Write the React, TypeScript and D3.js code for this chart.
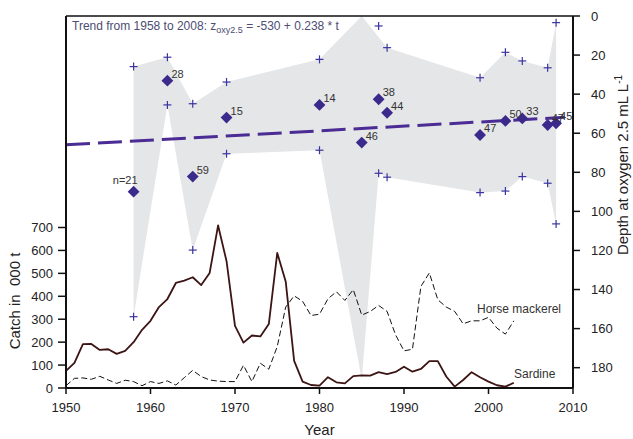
import React from "react";
import * as d3 from "d3";

// ---------- Catch data (thousand t) ----------
const catchYears = [
  1950, 1951, 1952, 1953, 1954, 1955, 1956, 1957, 1958, 1959,
  1960, 1961, 1962, 1963, 1964, 1965, 1966, 1967, 1968, 1969,
  1970, 1971, 1972, 1973, 1974, 1975, 1976, 1977, 1978, 1979,
  1980, 1981, 1982, 1983, 1984, 1985, 1986, 1987, 1988, 1989,
  1990, 1991, 1992, 1993, 1994, 1995, 1996, 1997, 1998, 1999,
  2000, 2001, 2002, 2003,
];
const sardine = [
  75, 110, 191, 192, 166, 169, 149, 162, 200, 254,
  293, 353, 388, 458, 468, 483, 449, 502, 709, 553,
  271, 198, 229, 225, 279, 589, 465, 118, 28, 13,
  10, 47, 25, 20, 52, 55, 54, 69, 61, 70,
  93, 71, 83, 117, 117, 50, 6, 35, 69, 47,
  28, 12, 6, 23,
];
const horseMackerel = [
  10, 42, 44, 38, 51, 35, 20, 34, 28, 10,
  28, 20, 31, 13, 45, 77, 50, 35, 30, 28,
  28, 99, 28, 108, 82, 181, 353, 402, 378, 316,
  322, 389, 420, 382, 429, 318, 334, 360, 334, 232,
  162, 169, 443, 502, 385, 353, 334, 280, 293, 293,
  308, 261, 235, 293,
];

// ---------- Depth at oxygen 2.5 mL/L (m) ----------
const oxyYears = [1958, 1962, 1965, 1969, 1980, 1985, 1987, 1988, 1999, 2002, 2004, 2007, 2008];
const oxyMean = [89.9, 33.1, 82.2, 52.0, 45.5, 64.8, 42.6, 49.5, 60.9, 53.7, 52.4, 55.8, 54.9];
const oxyN = [21, 28, 59, 15, 14, 46, 38, 44, 47, 50, 33, 47, 45];

const crossYears = [1958, 1962, 1965, 1969, 1980, 1987, 1988, 1999, 2002, 2004, 2007, 2008];
const crossUpper = [25.9, 21.1, 44.9, 33.8, 22.2, 5.1, 16.2, 31.6, 18.6, 23.0, 26.5, 3.4];
const crossLower = [153.9, 45.5, 119.8, 70.5, 68.7, 80.5, 82.5, 90.4, 89.6, 82.2, 85.6, 106.4];

const envTopYears = [1958, 1962, 1965, 1969, 1980, 1985, 1988, 1999, 2002, 2004, 2007, 2008];
const envTop = [25.9, 21.1, 44.9, 33.8, 22.2, 0, 16.2, 31.6, 18.6, 23.0, 26.5, 3.4];
const envBottomYears = [1958, 1962, 1965, 1969, 1980, 1985, 1987, 1988, 1999, 2002, 2004, 2007, 2008];
const envBottom = [153.9, 45.5, 119.8, 70.5, 68.7, 186, 80.5, 82.5, 90.4, 89.6, 82.2, 85.6, 106.4];

const trendIntercept = -530;
const trendSlope = 0.238;
const trendYears = [1950, 2009];

// ---------- Ticks ----------
const yearTicks = [1950, 1960, 1970, 1980, 1990, 2000, 2010];
const catchTicks = [0, 100, 200, 300, 400, 500, 600, 700];
const depthTicks = [0, 20, 40, 60, 80, 100, 120, 140, 160, 180];

const W = 633;
const H = 439;
const FONT = "'Liberation Sans', Arial, Helvetica, sans-serif";

export default function App() {
  const x = d3.scaleLinear().domain([1950, 2010]).range([66, 573]);
  const yDepth = d3.scaleLinear().domain([0, 190.4]).range([16, 388]);
  const yCatch = d3.scaleLinear().domain([0, 700]).range([388, 227.5]);

  const envPts: [number, number][] = [
    ...envTopYears.map((yr, i) => [x(yr), yDepth(envTop[i])] as [number, number]),
    ...envBottomYears
      .map((yr, i) => [x(yr), yDepth(envBottom[i])] as [number, number])
      .reverse(),
  ];
  const envPath = d3.line()(envPts) + "Z";

  const catchLine = d3
    .line<number>()
    .x((_, i) => x(catchYears[i]));
  const sardinePath = catchLine.y((v) => yCatch(v))(sardine) || "";
  const hmPath = catchLine.y((v) => yCatch(v))(horseMackerel) || "";

  const trendPath =
    d3
      .line<number>()
      .x((t) => x(t))
      .y((t) => yDepth(-(trendIntercept + trendSlope * t)))(trendYears) || "";

  const diamond = d3.symbol().type(d3.symbolSquare).size(70)() || "";

  const markColor = "#3b2a8c";
  const crossColor = "#3a35a0";

  return (
    <svg
      width={W}
      height={H}
      style={{ position: "fixed", left: 0, top: 0, background: "#fff" }}
      fontFamily={FONT}
    >
      <rect x={0} y={0} width={W} height={H} fill="#fff" />
      {/* grey envelope */}
      <path d={envPath} fill="#e5e6e8" stroke="none" />

      {/* catch lines */}
      <path d={hmPath} fill="none" stroke="#111" strokeWidth={1} strokeDasharray="6,3" />
      <path d={sardinePath} fill="none" stroke="#3d1414" strokeWidth={1.8} strokeLinejoin="round" />

      {/* crosses */}
      {crossYears.map((yr, i) =>
        [crossUpper[i], crossLower[i]].map((d, j) => {
          const cx = x(yr);
          const cy = yDepth(d);
          return (
            <g key={`c${i}-${j}`} stroke={crossColor} strokeWidth={1.2}>
              <line x1={cx - 4} x2={cx + 4} y1={cy} y2={cy} />
              <line x1={cx} x2={cx} y1={cy - 4} y2={cy + 4} />
            </g>
          );
        })
      )}

      {/* trend line */}
      <path d={trendPath} fill="none" stroke="#4a2c94" strokeWidth={3} strokeDasharray="24,8" />

      {/* diamonds */}
      {oxyYears.map((yr, i) => (
        <path
          key={`d${i}`}
          d={diamond}
          transform={`translate(${x(yr)},${yDepth(oxyMean[i])}) rotate(45)`}
          fill={markColor}
        />
      ))}
      {oxyYears.map((yr, i) =>
        i === 0 ? (
          <text
            key={`n${i}`}
            x={x(yr) + 4}
            y={yDepth(oxyMean[i]) - 8}
            textAnchor="end"
            fontSize={11}
            fill="#333"
          >
            {`n=${oxyN[i]}`}
          </text>
        ) : (
          <text
            key={`n${i}`}
            x={x(yr) + 4}
            y={yDepth(oxyMean[i]) - 3}
            fontSize={11}
            fill="#333"
          >
            {oxyN[i]}
          </text>
        )
      )}

      {/* trend text */}
      <text x={72} y={30} fontSize={12} fill="#4d4c72">
        Trend from 1958 to 2008: z
        <tspan fontSize={9} dy={3}>oxy2.5</tspan>
        <tspan dy={-3}> = -530 + 0.238 * t</tspan>
      </text>

      {/* series labels */}
      <text x={477} y={313} fontSize={12} fill="#333">Horse mackerel</text>
      <text x={514} y={378} fontSize={12} fill="#333">Sardine</text>

      {/* frame / axes */}
      <g stroke="#111" fill="none">
        <line x1={66} x2={573} y1={16} y2={16} strokeWidth={1.5} />
        <line x1={66} x2={66} y1={16} y2={388} strokeWidth={2} />
        <line x1={573} x2={573} y1={16} y2={388} strokeWidth={2} />
        <line x1={66} x2={573} y1={388} y2={388} strokeWidth={2} />
      </g>

      {/* bottom axis */}
      {yearTicks.map((t) => (
        <g key={`x${t}`}>
          <line x1={x(t)} x2={x(t)} y1={388} y2={394} stroke="#111" strokeWidth={1.5} />
          <text x={x(t)} y={412} textAnchor="middle" fontSize={13} fill="#222">
            {t}
          </text>
        </g>
      ))}
      <text x={319.5} y={435} textAnchor="middle" fontSize={15} fill="#222">
        Year
      </text>

      {/* left axis */}
      {catchTicks.map((t) => (
        <g key={`l${t}`}>
          <line x1={58} x2={66} y1={yCatch(t)} y2={yCatch(t)} stroke="#111" strokeWidth={1.5} />
          <text x={53} y={yCatch(t)} dy="0.36em" textAnchor="end" fontSize={13} fill="#222">
            {t}
          </text>
        </g>
      ))}
      <text
        transform="translate(20,301) rotate(-90)"
        textAnchor="middle"
        fontSize={15}
        fill="#222"
        xmlSpace="preserve"
        style={{ whiteSpace: "pre" }}
      >
        {"Catch in  000 t"}
      </text>

      {/* right axis */}
      {depthTicks.map((t) => (
        <g key={`r${t}`}>
          <line x1={573} x2={580} y1={yDepth(t)} y2={yDepth(t)} stroke="#111" strokeWidth={1.5} />
          <text x={591} y={yDepth(t)} dy="0.36em" fontSize={13} fill="#222">
            {t}
          </text>
        </g>
      ))}
      <text transform="translate(628,165) rotate(-90)" textAnchor="middle" fontSize={15} fill="#222">
        Depth at oxygen 2.5 mL L
        <tspan fontSize={10} dy={-6}>-1</tspan>
      </text>
    </svg>
  );
}
